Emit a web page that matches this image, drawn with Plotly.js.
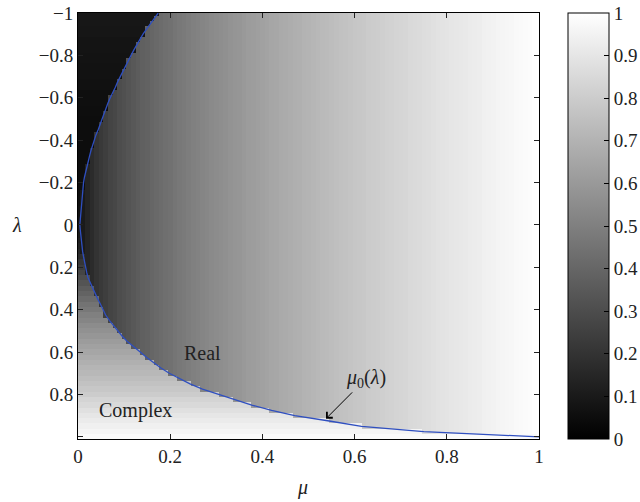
<!DOCTYPE html>
<html>
<head>
<meta charset="utf-8">
<script src="https://cdn.plot.ly/plotly-3.0.1.min.js"></script>
<style>
html,body{margin:0;padding:0;background:#fff;}
#chart{width:640px;height:502px;}
</style>
</head>
<body>
<div id="chart"></div>
<script>
// Column centres (mu) of the image
const mu = [0,0.01,0.02,0.03,0.04,0.05,0.06,0.07,0.08,0.09,0.10,0.11,0.12,0.13,0.14,0.15,0.16,0.17,0.18,0.19,0.20,0.21,0.22,0.23,0.24,0.25,0.26,0.27,0.28,0.29,0.30,0.31,0.32,0.33,0.34,0.35,0.36,0.37,0.38,0.39,0.40,0.41,0.42,0.43,0.44,0.45,0.46,0.47,0.48,0.49,0.50,0.51,0.52,0.53,0.54,0.55,0.56,0.57,0.58,0.59,0.60,0.61,0.62,0.63,0.64,0.65,0.66,0.67,0.68,0.69,0.70,0.71,0.72,0.73,0.74,0.75,0.76,0.77,0.78,0.79,0.80,0.81,0.82,0.83,0.84,0.85,0.86,0.87,0.88,0.89,0.90,0.91,0.92,0.93,0.94,0.95,0.96,0.97,0.98,0.99,1.00];

// Row centres (lambda) of the image
const lam = [-1,-0.975,-0.95,-0.925,-0.9,-0.875,-0.85,-0.825,-0.8,-0.775,-0.75,-0.725,-0.7,-0.675,-0.65,-0.625,-0.6,-0.575,-0.55,-0.525,-0.5,-0.475,-0.45,-0.425,-0.4,-0.375,-0.35,-0.325,-0.3,-0.275,-0.25,-0.225,-0.2,-0.175,-0.15,-0.125,-0.1,-0.075,-0.05,-0.025,0,0.025,0.05,0.075,0.1,0.125,0.15,0.175,0.2,0.225,0.25,0.275,0.3,0.325,0.35,0.375,0.4,0.425,0.45,0.475,0.5,0.525,0.55,0.575,0.6,0.625,0.65,0.675,0.7,0.725,0.75,0.775,0.8,0.825,0.85,0.875,0.9,0.925,0.95,0.975,1];

// Grey level read in the "Real" region (varies with mu only)
const realByMu = [0.05,0.10,0.14,0.17,0.20,0.225,0.245,0.265,0.28,0.30,0.315,0.33,0.345,0.36,0.375,0.385,0.40,0.41,0.425,0.435,0.445,0.46,0.47,0.48,0.49,0.50,0.51,0.52,0.53,0.54,0.55,0.555,0.565,0.575,0.585,0.59,0.60,0.61,0.615,0.625,0.63,0.64,0.65,0.655,0.665,0.67,0.68,0.685,0.69,0.70,0.705,0.715,0.72,0.73,0.735,0.74,0.75,0.755,0.76,0.77,0.775,0.78,0.785,0.795,0.80,0.805,0.81,0.82,0.825,0.83,0.835,0.84,0.85,0.855,0.86,0.865,0.87,0.88,0.885,0.89,0.895,0.90,0.905,0.91,0.915,0.92,0.925,0.93,0.94,0.945,0.95,0.955,0.96,0.965,0.97,0.975,0.98,0.985,0.99,0.995,1.0];

// Grey level read in the "Complex" region (varies with lambda)
const complexByLam = [0.09,0.09,0.09,0.085,0.085,0.08,0.08,0.08,0.075,0.075,0.07,0.07,0.07,0.065,0.065,0.06,0.06,0.06,0.055,0.055,0.05,0.05,0.05,0.05,0.05,0.05,0.05,0.05,0.05,0.05,0.05,0.05,0.05,0.055,0.055,0.06,0.06,0.065,0.07,0.075,0.08,0.09,0.10,0.12,0.14,0.16,0.18,0.21,0.24,0.27,0.30,0.33,0.36,0.39,0.42,0.45,0.47,0.50,0.52,0.55,0.57,0.59,0.61,0.63,0.65,0.67,0.69,0.71,0.72,0.74,0.76,0.78,0.80,0.83,0.85,0.88,0.90,0.92,0.94,0.96,0.98];

// Boundary curve mu0(lambda)
const mu0ByLam = [0.174,0.165,0.157,0.149,0.141,0.134,0.127,0.121,0.115,0.109,0.103,0.097,0.092,0.086,0.081,0.075,0.070,0.065,0.061,0.056,0.052,0.048,0.044,0.039,0.035,0.032,0.028,0.025,0.022,0.019,0.017,0.014,0.012,0.011,0.009,0.008,0.007,0.006,0.005,0.004,0.004,0.005,0.006,0.007,0.008,0.010,0.012,0.014,0.016,0.019,0.022,0.027,0.032,0.037,0.043,0.049,0.054,0.060,0.068,0.077,0.086,0.096,0.107,0.120,0.135,0.149,0.164,0.180,0.198,0.220,0.243,0.270,0.305,0.340,0.377,0.420,0.470,0.545,0.615,0.750,1.0];

// Tick labels
const yTickVals = [-1,-0.8,-0.6,-0.4,-0.2,0,0.2,0.4,0.6,0.8];
const yTickText = ['\u22121','\u22120.8','\u22120.6','\u22120.4','\u22120.2','0','0.2','0.4','0.6','0.8'];
const yUnlabelledTicks = [1];
const xTickVals = [0,0.2,0.4,0.6,0.8,1];
const xTickText = ['0','0.2','0.4','0.6','0.8','1'];
const cbTickVals = [0,0.1,0.2,0.3,0.4,0.5,0.6,0.7,0.8,0.9,1];
const cbTickText = ['0','0.1','0.2','0.3','0.4','0.5','0.6','0.7','0.8','0.9','1'];

// Assemble the image from the read arrays
const z = lam.map((l, i) => mu.map((m, j) => (m < mu0ByLam[i] ? complexByLam[i] : realByMu[j])));

const FONT = 'Liberation Serif, DejaVu Serif, serif';

const heat = {
  type: 'heatmap',
  x: mu, y: lam, z: z,
  zmin: 0, zmax: 1,
  zsmooth: false,
  colorscale: [[0, '#000000'], [1, '#ffffff']],
  hoverinfo: 'skip',
  colorbar: {
    x: 1.063, xanchor: 'left', xpad: 0,
    y: 0.5, yanchor: 'middle', ypad: 0,
    len: 1, lenmode: 'fraction',
    thickness: 41, thicknessmode: 'pixels',
    outlinewidth: 1, outlinecolor: '#000',
    ticks: 'inside', ticklen: 5, tickcolor: '#000',
    tickvals: cbTickVals, ticktext: cbTickText,
    tickfont: {family: FONT, size: 19, color: '#222'}
  }
};

const curve = {
  type: 'scatter', mode: 'lines',
  x: mu0ByLam, y: lam,
  line: {color: '#2f4fc0', width: 1.3},
  hoverinfo: 'skip', showlegend: false
};

const layout = {
  width: 640, height: 502,
  margin: {l: 78, r: 101, t: 13, b: 63, autoexpand: false},
  paper_bgcolor: '#fff', plot_bgcolor: '#fff',
  showlegend: false,
  font: {family: FONT, size: 19, color: '#222'},
  xaxis: {
    range: [0, 1], tickvals: xTickVals, ticktext: xTickText,
    ticks: 'inside', ticklen: 5, tickcolor: '#222', tickwidth: 1,
    showline: true, linecolor: '#000', linewidth: 1, mirror: 'ticks',
    showgrid: false, zeroline: false, automargin: false,
    tickfont: {family: FONT, size: 19, color: '#222'}
  },
  yaxis: {
    range: [1.01, -1], tickvals: yTickVals, ticktext: yTickText,
    ticks: 'inside', ticklen: 5, tickcolor: '#222', tickwidth: 1,
    minor: {tickmode: 'array', tickvals: yUnlabelledTicks, ticks: 'inside', ticklen: 5, tickcolor: '#222', tickwidth: 1, showgrid: false},
    showline: true, linecolor: '#000', linewidth: 1, mirror: 'ticks',
    showgrid: false, zeroline: false, automargin: false,
    tickfont: {family: FONT, size: 19, color: '#222'}
  },
  annotations: [
    {xref: 'paper', yref: 'y', x: -0.132, y: 0, text: '<i>\u03bb</i>', showarrow: false,
     xanchor: 'center', yanchor: 'middle', font: {family: FONT, size: 20, color: '#222'}},
    {xref: 'x', yref: 'paper', x: 0.488, y: -0.115, text: '<i>\u03bc</i>', showarrow: false,
     xanchor: 'center', yanchor: 'middle', font: {family: FONT, size: 20, color: '#222'}},
    {xref: 'x', yref: 'y', x: 0.271, y: 0.605, text: 'Real', showarrow: false,
     xanchor: 'center', yanchor: 'middle', font: {family: FONT, size: 20, color: '#222'}},
    {xref: 'x', yref: 'y', x: 0.124, y: 0.876, text: 'Complex', showarrow: false,
     xanchor: 'center', yanchor: 'middle', font: {family: FONT, size: 20, color: '#222'}},
    {xref: 'x', yref: 'y', x: 0.538, y: 0.914, axref: 'x', ayref: 'y', ax: 0.625, ay: 0.724,
     text: '<i>\u03bc</i><sub>0</sub>(<i>\u03bb</i>)', showarrow: true,
     arrowhead: 4, arrowsize: 1.6, arrowwidth: 1, arrowcolor: '#000', standoff: 0,
     font: {family: FONT, size: 20, color: '#222'}}
  ]
};

Plotly.newPlot('chart', [heat, curve], layout, {displayModeBar: false, staticPlot: true});
</script>
</body>
</html>
